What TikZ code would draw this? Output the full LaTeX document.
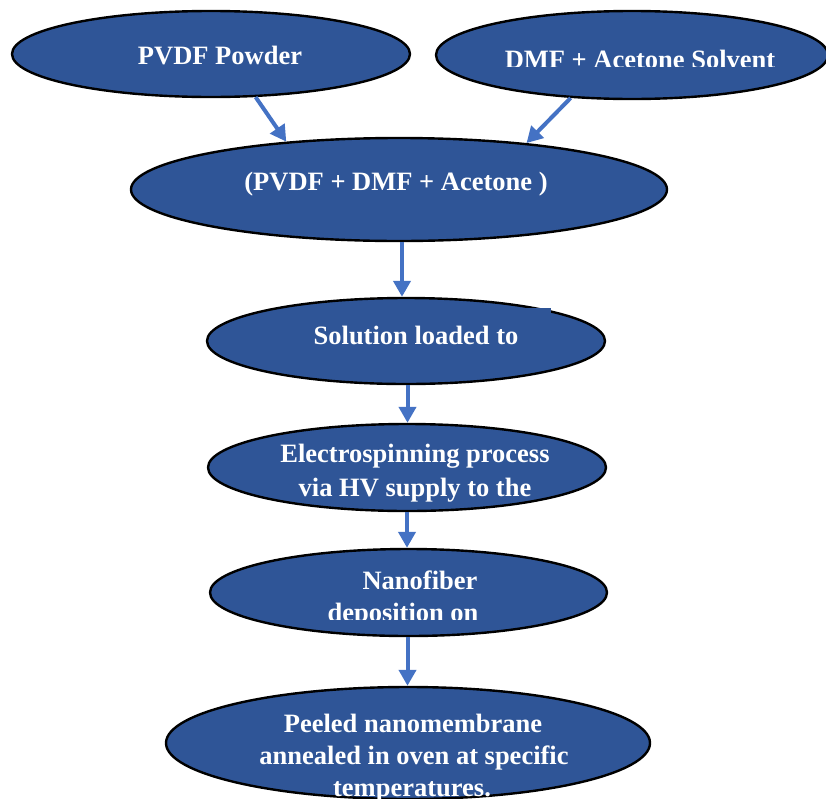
\documentclass[tikz,border=0pt]{standalone}
\usepackage{fontspec}
\setmainfont{Liberation Serif}
\usetikzlibrary{shapes.geometric,arrows.meta,calc}
\definecolor{ellfill}{HTML}{2F5597}
\definecolor{arrblue}{HTML}{4472C4}
\tikzset{
  ell/.style={ellipse, draw=black, line width=2.4pt, fill=ellfill, inner sep=0pt},
  txt/.style={text=white, font=\fontsize{26.5}{33}\selectfont\bfseries, anchor=base, inner sep=0pt},
  arr/.style={draw=arrblue, line width=4pt, -{Triangle[length=16pt,width=17pt]}}
}
\begin{document}
\begin{tikzpicture}[x=1pt,y=-1pt]
\useasboundingbox (0,0) rectangle (826,798);
% ellipses
\node[ell, minimum width=398pt, minimum height=86pt] (e1) at (211,54) {};
\node[ell, minimum width=392pt, minimum height=88pt] (e2) at (632,55) {};
\node[ell, minimum width=536pt, minimum height=103pt] (e3) at (399,189.5) {};
\node[ell, minimum width=398pt, minimum height=86pt] (e4) at (406,341) {};
\node[ell, minimum width=398pt, minimum height=87pt] (e5) at (407,467.5) {};
\node[ell, minimum width=397pt, minimum height=87pt] (e6) at (408.5,592.5) {};
\node[ell, minimum width=484pt, minimum height=112pt] (e7) at (408,743) {};
% fragment of a text box covering the border of e4
\fill[ellfill] (440,308) rectangle (551,330);
% texts
\node[txt] (t1) at (220,64) {PVDF Powder};
\begin{scope}
  \clip (430,0) rectangle (826,66);
  \node[txt] (t2) at (640,68) {DMF + Acetone Solvent};
\end{scope}
\node[txt] (t3) at (396,190) {(PVDF + DMF + Acetone )};
\node[txt] (t4) at (416,344) {Solution loaded to};
\node[txt] (t5a) at (415,462) {Electrospinning process};
\node[txt] (t5b) at (415,496) {via HV supply to the};
\node[txt] (t6a) at (420,589) {Nanofiber};
\begin{scope}
  \clip (200,595) rectangle (620,619);
  \node[txt] (t6b) at (403,621) {deposition on};
\end{scope}
\node[txt] (t7a) at (413,732) {Peeled nanomembrane};
\node[txt] (t7b) at (414,764) {annealed in oven at specific};
\node[txt] (t7c) at (412,796) {temperatures.};
% connectors
\draw[arr] (e1.-44) -- (e3.157);
\draw[arr] (e2.215) -- (e3.20);
\draw[arr] ([xshift=3pt]e3.south) -- ([xshift=3pt]e3.south |- e4.north);
\draw[arr] ([xshift=1.5pt]e4.south) -- ([xshift=1.5pt]e4.south |- e5.north);
\draw[arr] (e5.south) -- (e5.south |- e6.north);
\draw[arr] ([xshift=-1pt]e6.south) -- ([xshift=-1pt]e6.south |- e7.north);
\end{tikzpicture}
\end{document}
